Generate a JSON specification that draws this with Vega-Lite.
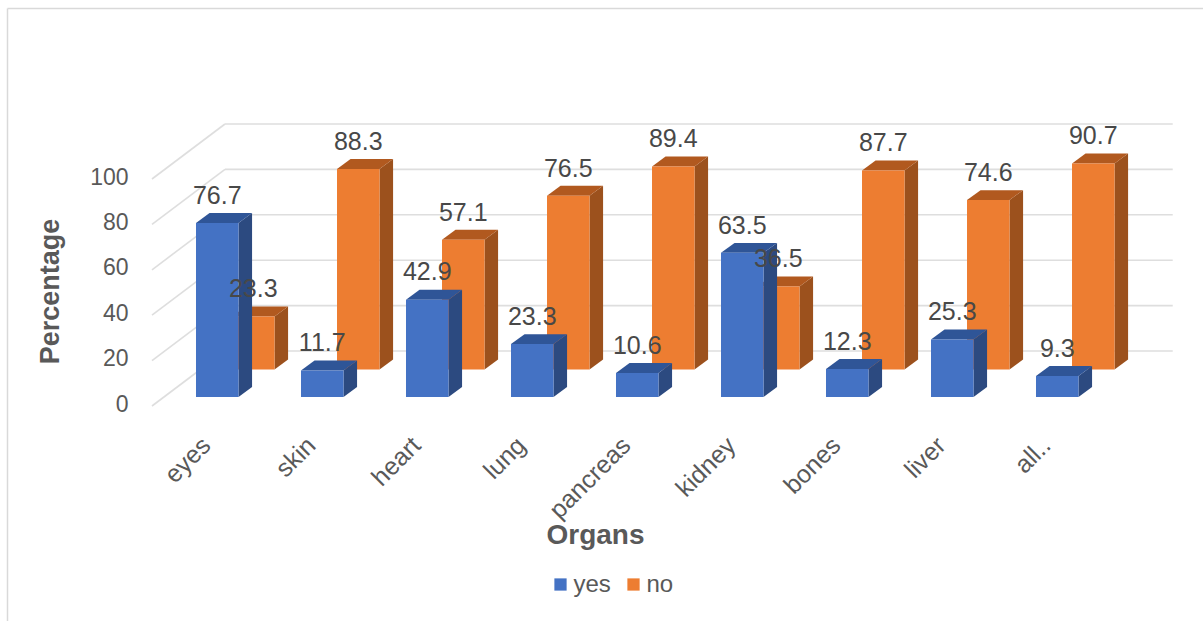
{
  "$schema": "https://vega.github.io/schema/vega-lite/v6.json",
  "width": 1195.5,
  "height": 612.5,
  "autosize": {"type": "none"},
  "padding": {"left": 7.5, "top": 8.5, "right": 0, "bottom": 0},
  "background": "white",
  "config": {"view": {"stroke": null}, "font": "Liberation Sans"},
  "data": {"values": [
    {"organ": "eyes", "series": "yes", "value": 76.7},
    {"organ": "skin", "series": "yes", "value": 11.7},
    {"organ": "heart", "series": "yes", "value": 42.9},
    {"organ": "lung", "series": "yes", "value": 23.3},
    {"organ": "pancreas", "series": "yes", "value": 10.6},
    {"organ": "kidney", "series": "yes", "value": 63.5},
    {"organ": "bones", "series": "yes", "value": 12.3},
    {"organ": "liver", "series": "yes", "value": 25.3},
    {"organ": "all..", "series": "yes", "value": 9.3},
    {"organ": "eyes", "series": "no", "value": 23.3},
    {"organ": "skin", "series": "no", "value": 88.3},
    {"organ": "heart", "series": "no", "value": 57.1},
    {"organ": "lung", "series": "no", "value": 76.5},
    {"organ": "pancreas", "series": "no", "value": 89.4},
    {"organ": "kidney", "series": "no", "value": 36.5},
    {"organ": "bones", "series": "no", "value": 87.7},
    {"organ": "liver", "series": "no", "value": 74.6},
    {"organ": "all..", "series": "no", "value": 90.7}
  ]},
  "transform": [
    {"calculate": "indexof(['eyes','skin','heart','lung','pancreas','kidney','bones','liver','all..'], datum.organ) + (datum.series === 'no' ? 0.343 : 0)", "as": "left"},
    {"calculate": "datum.left + 0.405", "as": "right"},
    {"calculate": "datum.left + 0.2025", "as": "mid"},
    {"calculate": "datum.series === 'no' ? 16.1 : 3.96", "as": "base"},
    {"calculate": "datum.base + datum.value", "as": "top"},
    {"calculate": "datum.top + 12", "as": "labelAt"}
  ],
  "encoding": {
    "x": {
      "type": "quantitative",
      "scale": {"domain": [-1.7952, 9.5905], "nice": false, "zero": false},
      "axis": {
        "orient": "bottom",
        "values": [0, 1, 2, 3, 4, 5, 6, 7, 8],
        "labelExpr": "['eyes','skin','heart','lung','pancreas','kidney','bones','liver','all..'][round(datum.value)]",
        "offset": -180,
        "labelAngle": -45,
        "labelAlign": "right",
        "labelBaseline": "middle",
        "labelPadding": 0,
        "labelOffset": 10,
        "labelFontSize": 25,
        "labelColor": "#595959",
        "labelBound": false,
        "labelFlush": false,
        "labelOverlap": false,
        "ticks": false,
        "domain": false,
        "grid": false,
        "title": "Organs",
        "titleX": 587.5,
        "titleY": 94,
        "titleBaseline": "middle",
        "titleFontSize": 28,
        "titleFontWeight": "bold",
        "titleColor": "#595959"
      }
    },
    "y": {
      "type": "quantitative",
      "scale": {"domain": [-94.71, 175.11], "nice": false, "zero": false},
      "axis": {
        "orient": "left",
        "values": [0, 20, 40, 60, 80, 100],
        "offset": -120.5,
        "labelPadding": 0,
        "labelOffset": -2,
        "labelFontSize": 23,
        "labelColor": "#595959",
        "ticks": false,
        "domain": false,
        "grid": false,
        "title": "Percentage",
        "titleAngle": -90,
        "titleX": -78,
        "titleY": 282.5,
        "titleBaseline": "middle",
        "titleFontSize": 27,
        "titleFontWeight": "bold",
        "titleColor": "#595959"
      }
    }
  },
  "layer": [
    {
      "data": {"values": [{"edge": "left"}]},
      "transform": [
        {"calculate": "-1.7952", "as": "frameX"},
        {"calculate": "-94.71", "as": "frameLow"},
        {"calculate": "175.11", "as": "frameHigh"}
      ],
      "mark": {"type": "rule", "color": "#d9d9d9", "strokeWidth": 1.5},
      "encoding": {
        "x": {"field": "frameX"},
        "y": {"field": "frameLow"},
        "y2": {"field": "frameHigh"}
      }
    },
    {
      "data": {"values": [{"edge": "top"}]},
      "transform": [
        {"calculate": "175.11", "as": "frameY"},
        {"calculate": "-1.7952", "as": "frameLeft"},
        {"calculate": "9.5905", "as": "frameRight"}
      ],
      "mark": {"type": "rule", "color": "#d9d9d9", "strokeWidth": 1.5},
      "encoding": {
        "y": {"field": "frameY"},
        "x": {"field": "frameLeft"},
        "x2": {"field": "frameRight"}
      }
    },
    {
      "data": {"values": [{"tick": 0}, {"tick": 20}, {"tick": 40}, {"tick": 60}, {"tick": 80}, {"tick": 100}]},
      "transform": [
        {"calculate": "datum.tick + 24.23", "as": "wall"},
        {"calculate": "-0.419", "as": "front"},
        {"calculate": "0.276", "as": "back"}
      ],
      "mark": {"type": "rule", "color": "#dedede", "strokeWidth": 1.6},
      "encoding": {
        "x": {"field": "front"},
        "x2": {"field": "back"},
        "y": {"field": "tick"},
        "y2": {"field": "wall"}
      }
    },
    {
      "data": {"values": [{"tick": 0}, {"tick": 20}, {"tick": 40}, {"tick": 60}, {"tick": 80}, {"tick": 100}]},
      "transform": [
        {"calculate": "datum.tick + 24.23", "as": "wall"},
        {"calculate": "0.276", "as": "back"},
        {"calculate": "9.302", "as": "end"}
      ],
      "mark": {"type": "rule", "color": "#dedede", "strokeWidth": 1.6},
      "encoding": {
        "x": {"field": "back"},
        "x2": {"field": "end"},
        "y": {"field": "wall"}
      }
    },
    {
      "transform": [
        {"filter": "datum.series === 'no'"},
        {"calculate": "[0, 1]", "as": "k"},
        {"flatten": ["k"]},
        {"calculate": "datum.right + datum.k * 0.129", "as": "px"},
        {"calculate": "datum.base + datum.k * 4.4", "as": "lo"},
        {"calculate": "datum.top + datum.k * 4.4", "as": "hi"}
      ],
      "mark": {"type": "area", "orient": "vertical", "color": "#9c511d"},
      "encoding": {
        "x": {"field": "px"},
        "y": {"field": "lo"},
        "y2": {"field": "hi"},
        "detail": {"field": "organ"}
      }
    },
    {
      "transform": [
        {"filter": "datum.series === 'no'"},
        {"calculate": "[0, 1, 2, 3]", "as": "k"},
        {"flatten": ["k"]},
        {"calculate": "datum.k === 0 ? datum.left : datum.k === 1 ? datum.left + 0.129 : datum.k === 2 ? datum.right : datum.right + 0.129", "as": "px"},
        {"calculate": "datum.k === 3 ? datum.top + 4.4 : datum.top", "as": "lo"},
        {"calculate": "datum.k === 0 ? datum.top : datum.top + 4.4", "as": "hi"}
      ],
      "mark": {"type": "area", "orient": "vertical", "color": "#b1591f"},
      "encoding": {
        "x": {"field": "px"},
        "y": {"field": "lo"},
        "y2": {"field": "hi"},
        "detail": {"field": "organ"}
      }
    },
    {
      "transform": [{"filter": "datum.series === 'no'"}],
      "mark": {"type": "rect"},
      "encoding": {
        "x": {"field": "left"},
        "x2": {"field": "right"},
        "y": {"field": "base"},
        "y2": {"field": "top"},
        "color": {
          "field": "series",
          "type": "nominal",
          "scale": {"domain": ["yes", "no"], "range": ["#4472c4", "#ed7d31"]},
          "legend": {
            "orient": "none",
            "legendX": 541,
            "legendY": 564,
            "direction": "horizontal",
            "title": null,
            "symbolType": "square",
            "symbolSize": 150,
            "symbolStrokeWidth": 0,
            "labelFontSize": 24,
            "labelColor": "#595959",
            "labelOffset": 1,
            "columnPadding": 10
          }
        }
      }
    },
    {
      "transform": [
        {"filter": "datum.series === 'yes'"},
        {"calculate": "[0, 1]", "as": "k"},
        {"flatten": ["k"]},
        {"calculate": "datum.right + datum.k * 0.129", "as": "px"},
        {"calculate": "datum.base + datum.k * 4.4", "as": "lo"},
        {"calculate": "datum.top + datum.k * 4.4", "as": "hi"}
      ],
      "mark": {"type": "area", "orient": "vertical", "color": "#2c4a80"},
      "encoding": {
        "x": {"field": "px"},
        "y": {"field": "lo"},
        "y2": {"field": "hi"},
        "detail": {"field": "organ"}
      }
    },
    {
      "transform": [
        {"filter": "datum.series === 'yes'"},
        {"calculate": "[0, 1, 2, 3]", "as": "k"},
        {"flatten": ["k"]},
        {"calculate": "datum.k === 0 ? datum.left : datum.k === 1 ? datum.left + 0.129 : datum.k === 2 ? datum.right : datum.right + 0.129", "as": "px"},
        {"calculate": "datum.k === 3 ? datum.top + 4.4 : datum.top", "as": "lo"},
        {"calculate": "datum.k === 0 ? datum.top : datum.top + 4.4", "as": "hi"}
      ],
      "mark": {"type": "area", "orient": "vertical", "color": "#2f5597"},
      "encoding": {
        "x": {"field": "px"},
        "y": {"field": "lo"},
        "y2": {"field": "hi"},
        "detail": {"field": "organ"}
      }
    },
    {
      "transform": [{"filter": "datum.series === 'yes'"}],
      "mark": {"type": "rect"},
      "encoding": {
        "x": {"field": "left"},
        "x2": {"field": "right"},
        "y": {"field": "base"},
        "y2": {"field": "top"},
        "color": {"field": "series", "type": "nominal"}
      }
    },
    {
      "mark": {"type": "text", "fontSize": 25, "color": "#484848", "align": "center", "baseline": "middle"},
      "encoding": {
        "x": {"field": "mid"},
        "y": {"field": "labelAt"},
        "text": {"field": "value", "type": "quantitative", "format": ".1f"}
      }
    }
  ]
}
